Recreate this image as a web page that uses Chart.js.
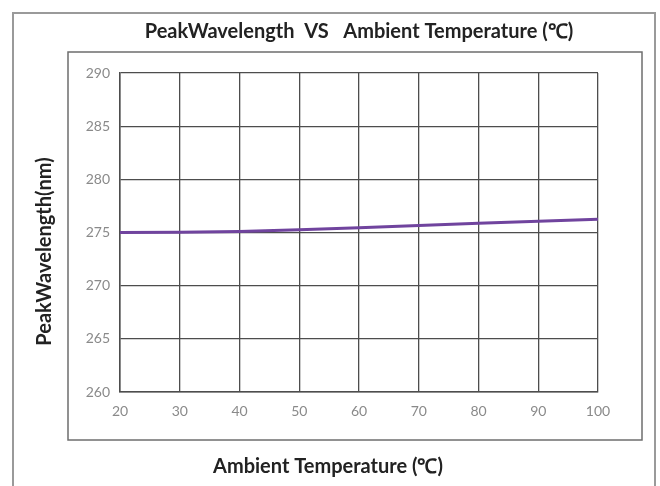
<!DOCTYPE html>
<html lang="en">
<head>
    <meta charset="UTF-8">
    <title>PeakWavelength VS Ambient Temperature</title>
    <script src="https://cdn.jsdelivr.net/npm/chart.js"></script>
    <style>
        html, body {
            margin: 0;
            padding: 0;
            background: #ffffff;
        }
        #wrap {
            width: 660px;
            height: 486px;
        }
    </style>
</head>
<body>
    <div id="wrap">
        <canvas id="chart" width="660" height="486"></canvas>
    </div>

    <script>
        // data
        const temperatures = [20, 30, 40, 50, 60, 70, 80, 90, 100];
        const peakWavelength = [275.0, 275.02, 275.1, 275.25, 275.45, 275.65, 275.88, 276.05, 276.25];
        const chartTitle = "PeakWavelength  VS   Ambient Temperature (\u2103)";
        const xTitle = "Ambient Temperature (\u2103)";
        const yTitle = "PeakWavelength(nm)";

        const gridColor = "#4d4d4d";
        const titleFont = "bold 20px Lato, 'Open Sans', sans-serif";

        // frames + titles, drawn around the plot area
        const framePlugin = {
            id: "frames",
            beforeDraw(chart) {
                const ctx = chart.ctx;
                const a = chart.chartArea;
                ctx.save();
                ctx.strokeStyle = "#9a9a9a";
                ctx.lineWidth = 2;
                ctx.strokeRect(a.left - 107, a.top - 60, 642, 500);
                ctx.strokeStyle = "#6e6e6e";
                ctx.lineWidth = 1.5;
                ctx.strokeRect(a.left - 52, a.top - 21, 574, 388);
                ctx.restore();
            },
            afterDraw(chart) {
                const ctx = chart.ctx;
                const a = chart.chartArea;
                ctx.save();
                ctx.fillStyle = "#222";
                ctx.textAlign = "center";
                ctx.textBaseline = "middle";
                ctx.font = titleFont;
                ctx.fillText(chartTitle, (a.left + a.right) / 2, a.top - 41);
                ctx.fillText(xTitle, (a.left + a.right) / 2 - 31, a.bottom + 75);
                // y axis title, rotated
                ctx.translate(a.left - 75, (a.top + a.bottom) / 2 + 19);
                ctx.rotate(-Math.PI / 2);
                ctx.fillText(yTitle, 0, 0);
                ctx.restore();
            }
        };

        new Chart(document.getElementById("chart"), {
            type: "line",
            data: {
                labels: temperatures,
                datasets: [{
                    data: temperatures.map((t, i) => ({ x: t, y: peakWavelength[i] })),
                    borderColor: "#70449e",
                    borderWidth: 3,
                    pointRadius: 0,
                    tension: 0,
                    fill: false
                }]
            },
            options: {
                responsive: false,
                animation: false,
                layout: {
                    padding: { left: 30, right: 62, top: 73, bottom: 14 }
                },
                plugins: {
                    legend: { display: false },
                    title: { display: false },
                    tooltip: { enabled: false }
                },
                scales: {
                    x: {
                        type: "linear",
                        min: 20,
                        max: 100,
                        ticks: {
                            stepSize: 10,
                            padding: 11,
                            color: "#8a8a8a",
                            font: { family: "Lato, sans-serif", size: 14 }
                        },
                        grid: { color: gridColor, lineWidth: 1.3, drawTicks: false },
                        border: { color: gridColor, width: 1.5 },
                        afterFit(s) { s.height = 80; }
                    },
                    y: {
                        min: 260,
                        max: 290,
                        ticks: {
                            stepSize: 5,
                            padding: 10,
                            color: "#8a8a8a",
                            font: { family: "Lato, sans-serif", size: 14 }
                        },
                        grid: { color: gridColor, lineWidth: 1.3, drawTicks: false },
                        border: { color: gridColor, width: 1.5 },
                        afterFit(s) { s.width = 90; }
                    }
                }
            },
            plugins: [framePlugin]
        });
    </script>
</body>
</html>
